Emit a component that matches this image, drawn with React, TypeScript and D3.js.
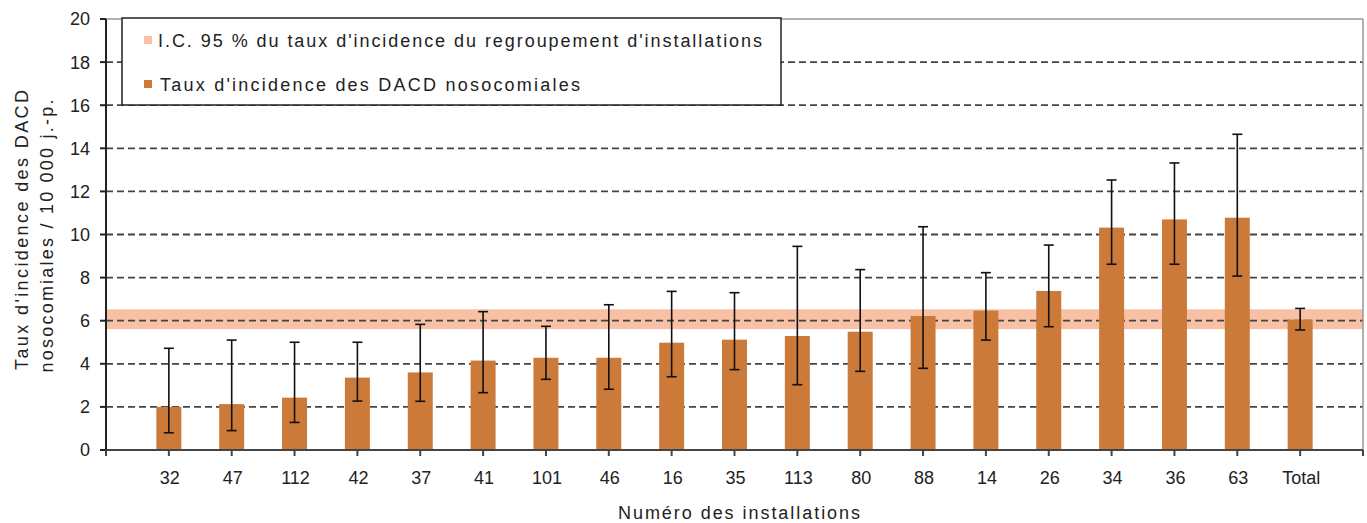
import React from "react";
import * as d3 from "d3";

const categories = ["32", "47", "112", "42", "37", "41", "101", "46", "16", "35", "113", "80", "88", "14", "26", "34", "36", "63", "Total"];
const rates = [2.0, 2.13, 2.43, 3.36, 3.6, 4.15, 4.28, 4.28, 4.98, 5.12, 5.29, 5.49, 6.22, 6.47, 7.38, 10.32, 10.7, 10.78, 6.05];
const ciLow = [0.8, 0.9, 1.28, 2.27, 2.26, 2.66, 3.28, 2.82, 3.4, 3.73, 3.03, 3.65, 3.79, 5.1, 5.72, 8.62, 8.62, 8.07, 5.57];
const ciHigh = [4.72, 5.1, 5.0, 5.0, 5.83, 6.42, 5.74, 6.74, 7.36, 7.3, 9.45, 8.37, 10.36, 8.23, 9.51, 12.53, 13.32, 14.65, 6.57];
const groupCI = [5.61, 6.53];
const yTicks = [0, 2, 4, 6, 8, 10, 12, 14, 16, 18, 20];
const legendLabels = [
  "I.C. 95 % du taux d'incidence du regroupement d'installations",
  "Taux d'incidence des DACD nosocomiales",
];

const W = 1367;
const H = 523;
const left = 106;
const right = 1363;
const top = 19;
const bottom = 450;

const FONT = "'Liberation Sans', Arial, sans-serif";
const BAR = "#CC7A3A";
const BAND = "#F8C1A5";
const FS = 18;

export default function App() {
  const slots = ["__start", ...categories, "__end"];
  const x = d3.scalePoint<string>().domain(slots).range([left, right]);
  const y = d3.scaleLinear().domain([0, 20]).range([bottom, top]);
  const barW = 25;

  return (
    <svg
      width={W}
      height={H}
      style={{ position: "absolute", left: 0, top: 0, background: "#fff" }}
      fontFamily={FONT}
    >
      <rect
        x={left}
        y={y(groupCI[1])}
        width={right - left}
        height={y(groupCI[0]) - y(groupCI[1])}
        fill={BAND}
      />
      {yTicks
        .filter((t) => t > 0 && t < 20)
        .map((t) => (
          <line
            key={"g" + t}
            x1={left}
            x2={right}
            y1={y(t)}
            y2={y(t)}
            stroke="#444"
            strokeWidth={1.8}
            strokeDasharray="7,4"
          />
        ))}
      <line x1={left} x2={right} y1={y(20)} y2={y(20)} stroke="#999" strokeWidth={1.5} />
      <line x1={right} x2={right} y1={y(20)} y2={bottom} stroke="#999" strokeWidth={1.5} />
      {categories.map((c, i) => (
        <rect
          key={"b" + c}
          x={(x(c) as number) - barW / 2}
          y={y(rates[i])}
          width={barW}
          height={y(0) - y(rates[i])}
          fill={BAR}
        />
      ))}
      {categories.map((c, i) => {
        const cx = x(c) as number;
        return (
          <g key={"e" + c} stroke="#111" strokeWidth={1.6}>
            <line x1={cx} x2={cx} y1={y(ciHigh[i])} y2={y(ciLow[i])} />
            <line x1={cx - 5} x2={cx + 5} y1={y(ciHigh[i])} y2={y(ciHigh[i])} />
            <line x1={cx - 5} x2={cx + 5} y1={y(ciLow[i])} y2={y(ciLow[i])} />
          </g>
        );
      })}
      <line x1={left} x2={right} y1={bottom} y2={bottom} stroke="#444" strokeWidth={2} />
      <line x1={left} x2={left} y1={top} y2={bottom} stroke="#222" strokeWidth={2} />
      {yTicks.map((t) => (
        <g key={"yt" + t}>
          <line x1={left - 6} x2={left} y1={y(t)} y2={y(t)} stroke="#222" strokeWidth={2} />
          <text x={90} y={y(t)} dy="0.36em" textAnchor="end" fontSize={FS} fill="#222">
            {t}
          </text>
        </g>
      ))}
      {slots.map((s) => (
        <line
          key={"xt" + s}
          x1={x(s) as number}
          x2={x(s) as number}
          y1={bottom}
          y2={bottom + 6}
          stroke="#444"
          strokeWidth={2}
        />
      ))}
      {categories.map((c) => (
        <text key={"xl" + c} x={(x(c) as number) + 1} y={484} textAnchor="middle" fontSize={FS} fill="#222">
          {c}
        </text>
      ))}
      <text x={739} y={519} textAnchor="middle" fontSize={FS} fill="#222" textLength={242} lengthAdjust="spacing">
        Numéro des installations
      </text>
      <g transform="translate(28,230) rotate(-90)">
        <text x={0} y={0} textAnchor="middle" fontSize={FS} fill="#222" textLength={280} lengthAdjust="spacing">
          Taux d'incidence des DACD
        </text>
      </g>
      <g transform="translate(53,236) rotate(-90)">
        <text x={0} y={0} textAnchor="middle" fontSize={FS} fill="#222" textLength={273} lengthAdjust="spacing">
          nosocomiales / 10 000 j.-p.
        </text>
      </g>
      <rect x={122} y={18} width={659} height={87} fill="#fff" stroke="#222" strokeWidth={1.5} />
      <rect x={144} y={36} width={8} height={8} fill={BAND} />
      <text x={158} y={47} fontSize={FS} fill="#222" textLength={604} lengthAdjust="spacing">
        {legendLabels[0]}
      </text>
      <rect x={144} y={80} width={8} height={8} fill={BAR} />
      <text x={160} y={91} fontSize={FS} fill="#222" textLength={420} lengthAdjust="spacing">
        {legendLabels[1]}
      </text>
    </svg>
  );
}
